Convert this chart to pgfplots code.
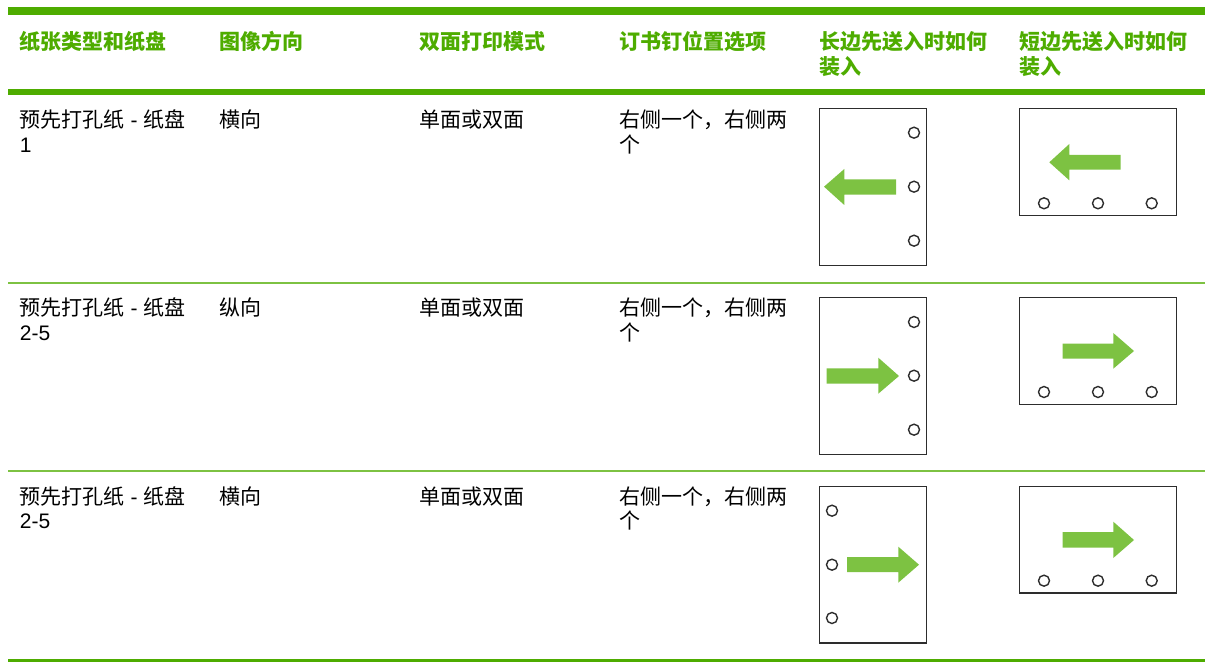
\documentclass[border=0pt]{standalone}
\usepackage{pgfplots}
\pgfplotsset{compat=1.18}
\usepackage{fontspec}
\setmainfont{Liberation Sans}
\newfontfamily\cjk{Noto Sans CJK SC}
\definecolor{hpgreen}{RGB}{78,172,0}
\definecolor{lightg}{RGB}{125,194,66}
\definecolor{paper}{RGB}{45,45,45}
\newcommand{\bodyfont}{\fontsize{10.5}{12.5}\selectfont}
\begin{document}
\begin{tikzpicture}
\useasboundingbox (0,0) rectangle (602.5pt,331pt);
\begin{axis}[hide axis, scale only axis, width=602.5pt, height=331pt,
  xmin=0, xmax=1205, ymin=0, ymax=662, y dir=reverse, clip=false,
  anchor=south west, at={(0,0)}]
% rules
\addplot[hpgreen, line width=4pt] coordinates {(8,10.7) (1205,10.7)};
\addplot[hpgreen, line width=2.85pt] coordinates {(8,92.2) (1205,92.2)};
\addplot[lightg, line width=0.75pt] coordinates {(8,283) (1205,283)};
\addplot[lightg, line width=0.75pt] coordinates {(8,471) (1205,471)};
\addplot[hpgreen, line width=2pt] coordinates {(8,661) (1205,661)};
% papers
\addplot[paper, line width=0.7pt] coordinates {(819.3,108.3) (926.7,108.3) (926.7,265.3) (819.3,265.3) (819.3,108.3)};
\addplot[paper, line width=0.7pt] coordinates {(1019.3,108.3) (1176.3,108.3) (1176.3,215.3) (1019.3,215.3) (1019.3,108.3)};
\addplot[paper, line width=0.7pt] coordinates {(819.3,297.3) (926.7,297.3) (926.7,454.3) (819.3,454.3) (819.3,297.3)};
\addplot[paper, line width=0.7pt] coordinates {(1019.3,297.3) (1176.3,297.3) (1176.3,404.3) (1019.3,404.3) (1019.3,297.3)};
\addplot[paper, line width=0.7pt] coordinates {(819.3,486.3) (926.7,486.3) (926.7,643) (819.3,643) (819.3,486.3)};
\addplot[paper, line width=0.7pt] coordinates {(1019.3,486.3) (1176.3,486.3) (1176.3,593) (1019.3,593) (1019.3,486.3)};
% arrows
\addplot[fill=lightg, draw=none] coordinates {(824,186.7) (844.3,169) (844.3,179.3) (896,179.3) (896,194.7) (844.3,194.7) (844.3,205)} -- cycle;
\addplot[fill=lightg, draw=none] coordinates {(1049.3,162.3) (1069.3,144) (1069.3,155) (1120.7,155) (1120.7,169.7) (1069.3,169.7) (1069.3,180.3)} -- cycle;
\addplot[fill=lightg, draw=none] coordinates {(826.7,368.3) (878.3,368.3) (878.3,357.7) (899,376) (878.3,393.7) (878.3,383.7) (826.7,383.7)} -- cycle;
\addplot[fill=lightg, draw=none] coordinates {(1062.7,343.7) (1113.3,343.7) (1113.3,333) (1134,351) (1113.3,368.7) (1113.3,358.7) (1062.7,358.7)} -- cycle;
\addplot[fill=lightg, draw=none] coordinates {(847,557) (898.3,557) (898.3,546.7) (919,564.7) (898.3,582.7) (898.3,572) (847,572)} -- cycle;
\addplot[fill=lightg, draw=none] coordinates {(1062.7,532) (1113.3,532) (1113.3,521.7) (1134,540) (1113.3,558) (1113.3,547.7) (1062.7,547.7)} -- cycle;
% holes
\addplot[only marks, mark=o, mark size=2.75pt, mark options={line width=0.7pt, draw=paper}] coordinates {
(914,132.7) (914,186.7) (914,240.7) (1044,203.3) (1098,203.3) (1151.7,203.3)
(914,322) (914,375.7) (914,429.7) (1044,392) (1098,392) (1151.7,392)
(832,510.7) (832,564.7) (832,618) (1044,580.7) (1098,580.7) (1151.7,580.7)};
% header
\begin{scope}[every node/.style={anchor=base west, inner sep=0pt, text=hpgreen, font=\bodyfont\cjk\bfseries}]
\node at (axis cs:19.5,49.5) {纸张类型和纸盘};
\node at (axis cs:219.5,49.5) {图像方向};
\node at (axis cs:419.5,49.5) {双面打印模式};
\node at (axis cs:619.5,49.5) {订书钉位置选项};
\node at (axis cs:819.5,49.5) {长边先送入时如何};
\node at (axis cs:819.5,75) {装入};
\node at (axis cs:1019.5,49.5) {短边先送入时如何};
\node at (axis cs:1019.5,75) {装入};
\end{scope}
% body
\begin{scope}[every node/.style={anchor=base west, inner sep=0pt, text=black, font=\bodyfont}]
\node at (axis cs:19.5,128) {{\cjk 预先打孔纸} - {\cjk 纸盘}};
\node at (axis cs:19.5,153) {1};
\node at (axis cs:219.5,128) {\cjk 横向};
\node at (axis cs:419.5,128) {\cjk 单面或双面};
\node at (axis cs:619.5,128) {\cjk 右侧一个，右侧两};
\node at (axis cs:619.5,153) {\cjk 个};
\node at (axis cs:19.5,315.5) {{\cjk 预先打孔纸} - {\cjk 纸盘}};
\node at (axis cs:19.5,340.5) {2-5};
\node at (axis cs:219.5,315.5) {\cjk 纵向};
\node at (axis cs:419.5,315.5) {\cjk 单面或双面};
\node at (axis cs:619.5,315.5) {\cjk 右侧一个，右侧两};
\node at (axis cs:619.5,340.5) {\cjk 个};
\node at (axis cs:19.5,504) {{\cjk 预先打孔纸} - {\cjk 纸盘}};
\node at (axis cs:19.5,529) {2-5};
\node at (axis cs:219.5,504) {\cjk 横向};
\node at (axis cs:419.5,504) {\cjk 单面或双面};
\node at (axis cs:619.5,504) {\cjk 右侧一个，右侧两};
\node at (axis cs:619.5,529) {\cjk 个};
\end{scope}
\end{axis}
\end{tikzpicture}
\end{document}
